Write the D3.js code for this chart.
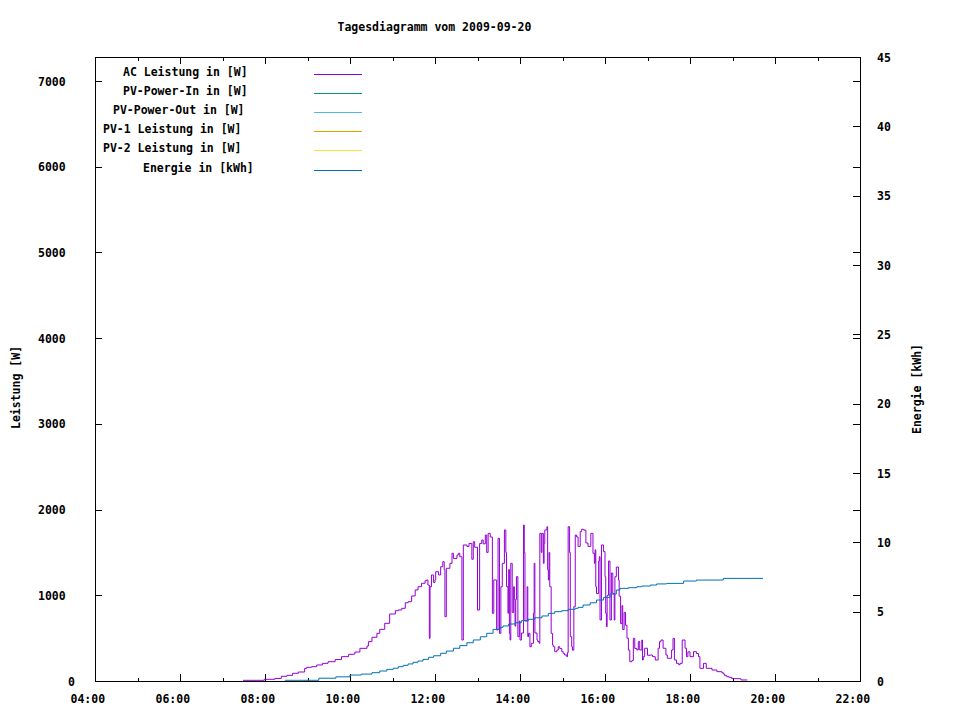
<!DOCTYPE html>
<html><head><meta charset="utf-8">
<script src="https://cdn.jsdelivr.net/npm/d3@7"></script>
<style>
body{margin:0;background:#fff}
text{font-family:"DejaVu Sans Mono",monospace;font-weight:bold;font-size:11.5px;fill:#000}
</style>
</head><body>
<svg id="chart" width="960" height="720"></svg>
<script>
// ---------- data ----------
const titleText = "Tagesdiagramm vom 2009-09-20";
const yLabelLeft = "Leistung [W]";
const yLabelRight = "Energie [kWh]";
const legendLabels = ["AC Leistung in [W]","PV-Power-In in [W]","PV-Power-Out in [W]","PV-1 Leistung in [W]","PV-2 Leistung in [W]","Energie in [kWh]"];
const legendColors = ["#9400d3","#009e73","#56b4e9","#e69f00","#f0e442","#0072b2"];
const xMajorTicks = [4,6,8,10,12,14,16,18,20,22];
const xMinorTicks = [5,7,9,11,13,15,17,19,21];
const y1Ticks = [0,1000,2000,3000,4000,5000,6000,7000];
const y2Ticks = [0,5,10,15,20,25,30,35,40,45];

const acTimes = ["07:29","07:57","07:59","08:14","08:23","08:31","08:39","08:47","08:56","08:59","09:06","09:13","09:21","09:29","09:39","09:48","09:58","10:05","10:07","10:14","10:24","10:26","10:31","10:38","10:42","10:49","10:56","11:04","11:08","11:13","11:18","11:22","11:27","11:32","11:36","11:41","11:46","11:48","11:50","11:52","11:53","11:55","11:58","12:00","12:01","12:05","12:08","12:11","12:13","12:14","12:16","12:21","12:24","12:26","12:31","12:33","12:35","12:38","12:40","12:45","12:48","12:52","12:54","12:56","13:00","13:03","13:06","13:08","13:11","13:13","13:15","13:18","13:21","13:23","13:25","13:27","13:29","13:31","13:33","13:35","13:38","13:40","13:41","13:43","13:44","13:45","13:46","13:47","13:49","13:51","13:52","13:53","13:54","13:55","13:57","13:59","14:00","14:02","14:05","14:06","14:07","14:10","14:11","14:12","14:14","14:16","14:19","14:20","14:21","14:24","14:25","14:27","14:28","14:30","14:31","14:33","14:34","14:35","14:38","14:39","14:40","14:41","14:42","14:44","14:46","14:47","14:49","14:52","14:54","14:56","14:59","15:01","15:03","15:06","15:07","15:08","15:10","15:11","15:13","15:14","15:16","15:18","15:20","15:22","15:25","15:27","15:30","15:33","15:36","15:40","15:43","15:45","15:46","15:47","15:48","15:51","15:52","15:53","15:55","15:58","16:00","16:01","16:02","16:03","16:05","16:07","16:09","16:11","16:13","16:14","16:16","16:19","16:20","16:22","16:24","16:25","16:27","16:29","16:31","16:33","16:35","16:38","16:40","16:42","16:45","16:47","16:49","16:52","16:53","16:54","16:56","17:00","17:04","17:07","17:11","17:15","17:17","17:19","17:22","17:26","17:28","17:34","17:36","17:38","17:41","17:44","17:46","17:49","17:53","17:55","17:57","18:00","18:05","18:09","18:12","18:14","18:19","18:23","18:31","18:38","18:45","18:47","18:49","18:52","18:55","18:59","19:11","19:12","19:21"];
const acWatts = [8,8,20,30,55,66,90,105,148,160,167,187,206,225,250,284,311,315,338,381,408,459,510,556,603,673,782,820,829,848,913,925,992,1062,1100,1140,1170,1178,1120,498,1100,1237,1150,1180,1275,1237,1333,1392,1300,750,1315,1373,1490,1430,1470,1490,1450,478,1587,1570,1605,1420,1625,1560,828,1605,1645,1600,1703,1500,1722,1680,790,1180,1178,595,1665,556,1100,1373,1762,1500,1100,790,1300,556,478,1373,800,1100,950,640,950,1217,517,700,478,560,1820,1500,700,1100,517,556,400,440,790,1373,560,478,460,440,1722,1500,1722,1373,1605,1762,1800,1300,1178,1500,1100,556,420,400,342,360,400,380,342,322,303,284,330,1800,1500,517,400,360,867,1703,1680,1570,1742,1770,1760,1610,1570,1722,1490,1373,1530,1100,1020,1400,1450,712,1587,1510,1217,790,634,1000,1400,712,1260,1020,712,1217,1330,1178,990,670,880,600,800,650,500,360,225,240,498,380,362,460,362,478,245,284,382,300,303,284,245,382,459,478,382,303,265,362,498,245,206,190,206,478,382,284,340,284,342,320,284,148,206,148,128,109,97,82,62,50,43,27,23,12,12];

const energyTimes = ["08:28","09:16","09:40","10:00","10:16","10:31","10:42","10:52","11:01","11:08","11:15","11:22","11:29","11:36","11:43","11:51","11:58","12:08","12:16","12:26","12:35","12:45","12:54","13:04","13:13","13:22","13:32","13:36","13:44","13:53","14:02","14:12","14:21","14:31","14:40","14:49","14:59","15:08","15:18","15:22","15:29","15:39","15:48","15:58","16:07","16:16","16:21","16:33","16:45","16:52","17:04","17:13","17:27","17:51","18:09","18:47","19:43"];
const energyKWh = [0.05,0.2,0.3,0.43,0.5,0.6,0.72,0.84,0.92,1.03,1.13,1.23,1.35,1.44,1.56,1.71,1.82,2.0,2.16,2.36,2.55,2.76,2.96,3.19,3.44,3.72,3.87,3.97,4.11,4.2,4.35,4.45,4.56,4.69,4.88,5.0,5.07,5.17,5.24,5.31,5.48,5.64,5.84,6.03,6.27,6.56,6.68,6.73,6.8,6.85,6.92,7.0,7.04,7.21,7.28,7.4,7.4];

// ---------- layout ----------
const L = 95, R = 860, T = 57, B = 681;
const CW = 10; // gnuplot's estimated char width used for justification
const svg = d3.select("#chart");
const hrs = s => { const [h,m] = s.split(":").map(Number); return h + m/60; };
const pad2 = n => String(n).padStart(2,"0");

const x = d3.scaleLinear().domain([4,22]).range([L,R]);
const y1 = d3.scaleLinear().domain([0,7280]).range([B,T]);
const y2 = d3.scaleLinear().domain([0,45]).range([B,T]);

// border
svg.append("rect").attr("x",L).attr("y",T).attr("width",R-L).attr("height",B-T)
  .attr("fill","none").attr("stroke","#000").attr("shape-rendering","crispEdges");

function styleAxis(g){ g.select(".domain").remove(); g.selectAll("line").attr("stroke","#000").attr("shape-rendering","crispEdges"); }

// x axes (bottom + mirrored top)
svg.append("g").attr("transform",`translate(0,${B})`)
  .call(d3.axisBottom(x).tickValues(xMajorTicks).tickSize(-7).tickFormat(d=>pad2(d)+":00"))
  .call(styleAxis)
  .call(g=>g.selectAll("text").attr("text-anchor","start").attr("font-size",null).attr("font-family",null)
      .attr("x",function(d){ return -(pad2(d)+":00").length*CW/2; }).attr("y",22).attr("dy",null));
svg.append("g").attr("transform",`translate(0,${B})`)
  .call(d3.axisBottom(x).tickValues(xMinorTicks).tickSize(-3.5).tickFormat("")).call(styleAxis);
svg.append("g").attr("transform",`translate(0,${T})`)
  .call(d3.axisTop(x).tickValues(xMajorTicks).tickSize(-7).tickFormat("")).call(styleAxis);
svg.append("g").attr("transform",`translate(0,${T})`)
  .call(d3.axisTop(x).tickValues(xMinorTicks).tickSize(-3.5).tickFormat("")).call(styleAxis);

// y1 axis left + mirror on right
svg.append("g").attr("transform",`translate(${L},0)`)
  .call(d3.axisLeft(y1).tickValues(y1Ticks).tickSize(-7).tickFormat(d=>String(d)))
  .call(styleAxis)
  .call(g=>g.selectAll("text").attr("text-anchor","start").attr("font-size",null).attr("font-family",null)
      .attr("x",d=>-17-String(d).length*CW).attr("dy","0.35em"));
svg.append("g").attr("transform",`translate(${R},0)`)
  .call(d3.axisRight(y1).tickValues(y1Ticks).tickSize(-7).tickFormat("")).call(styleAxis);
// y2 axis right
svg.append("g").attr("transform",`translate(${R},0)`)
  .call(d3.axisRight(y2).tickValues(y2Ticks).tickSize(-7).tickFormat(d=>String(d)))
  .call(styleAxis)
  .call(g=>g.selectAll("text").attr("text-anchor","start").attr("font-size",null).attr("font-family",null)
      .attr("x",17).attr("dy","0.35em"));

// title & axis labels
svg.append("text").attr("x",(L+R)/2 - titleText.length*CW/2).attr("y",31).text(titleText);
svg.append("text").attr("transform",`translate(20,${(T+B)/2 + yLabelLeft.length*CW/2}) rotate(-90)`).text(yLabelLeft);
svg.append("text").attr("transform",`translate(921,${(T+B)/2 + yLabelRight.length*CW/2}) rotate(-90)`).text(yLabelRight);

// legend
const legendRight = 303, rowY0 = 74, rowH = 19.1;
legendLabels.forEach((lab,i)=>{
  const yy = rowY0 + i*rowH;
  svg.append("text").attr("x",legendRight - lab.length*CW).attr("y",yy-2).attr("dy","0.35em").text(lab);
  svg.append("line").attr("x1",314).attr("x2",362).attr("y1",Math.round(yy)+0.5).attr("y2",Math.round(yy)+0.5)
    .attr("stroke",legendColors[i]).attr("stroke-width",1);
});

// data lines
const acData = acTimes.map((t,i)=>({t:hrs(t), v:acWatts[i]}));
const enData = energyTimes.map((t,i)=>({t:hrs(t), v:energyKWh[i]}));
svg.append("path").datum(acData)
  .attr("d",d3.line().x(d=>x(d.t)).y(d=>y1(d.v)).curve(d3.curveStepAfter))
  .attr("fill","none").attr("stroke",legendColors[0]).attr("stroke-width",1);
svg.append("path").datum(enData)
  .attr("d",d3.line().x(d=>x(d.t)).y(d=>y2(d.v)).curve(d3.curveStepAfter))
  .attr("fill","none").attr("stroke",legendColors[5]).attr("stroke-width",1);
</script>
</body></html>
